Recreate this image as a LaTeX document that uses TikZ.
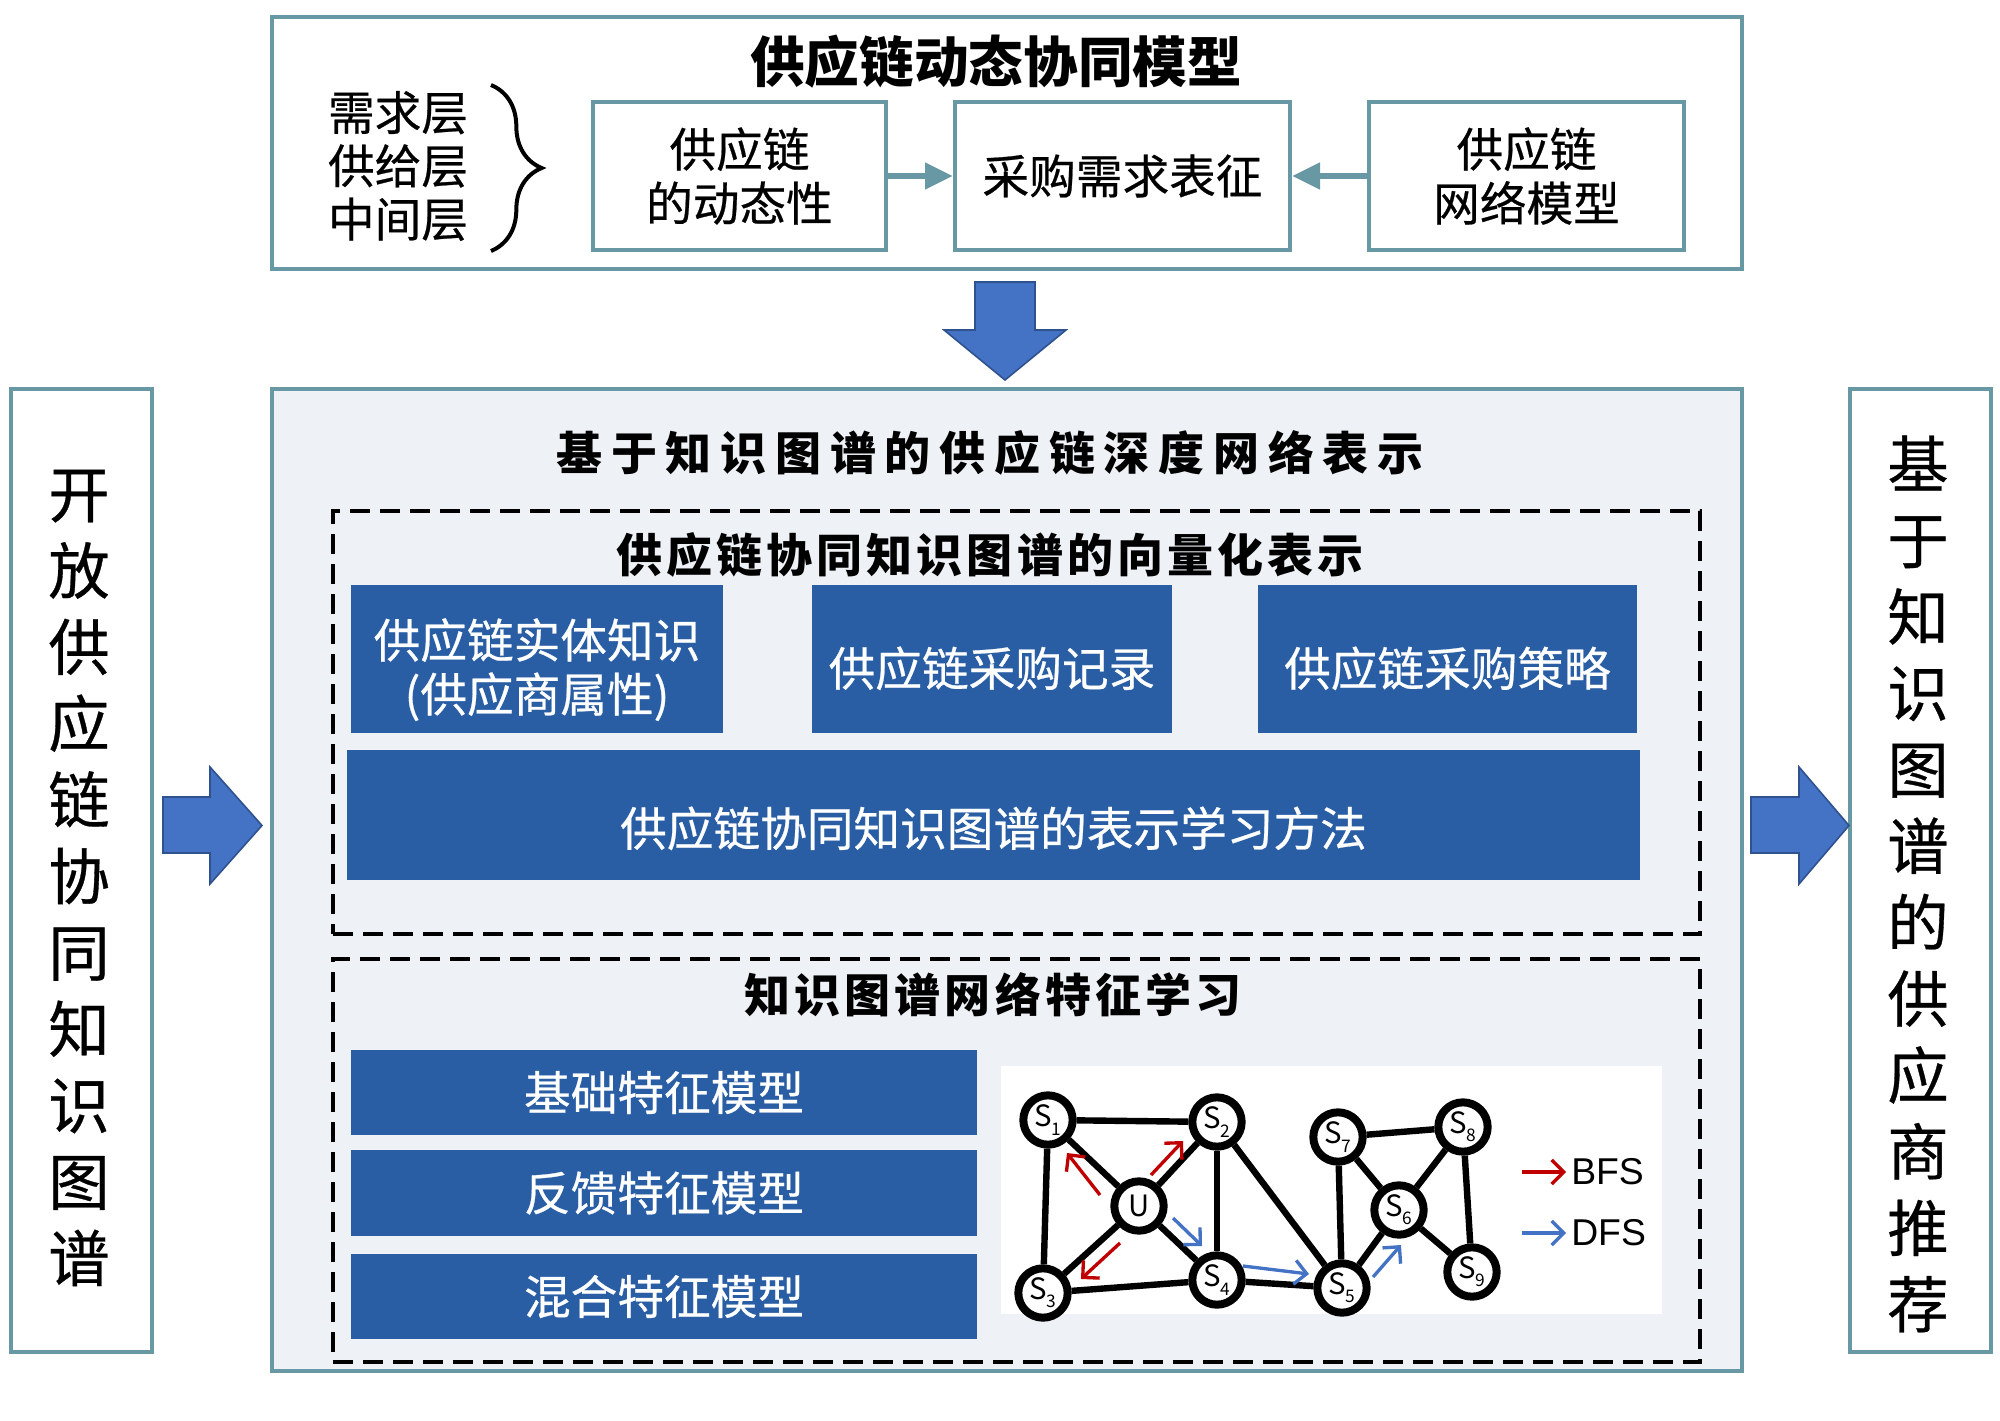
\documentclass[tikz,border=0pt]{standalone}
\usepackage{fontspec}
\setmainfont{Noto Sans CJK SC}[UprightFeatures={FakeBold=0.5}]
\newfontfamily\latinsans{Liberation Sans}
\newfontfamily\glabel{Noto Sans CJK SC}
\usetikzlibrary{arrows.meta,decorations.pathreplacing}
\definecolor{tealb}{RGB}{104,152,163}
\definecolor{midfill}{RGB}{238,242,247}
\definecolor{kblue}{RGB}{41,94,165}
\definecolor{arrfill}{RGB}{68,114,196}
\definecolor{arrdraw}{RGB}{47,82,143}
\definecolor{bfsred}{RGB}{192,0,0}
\definecolor{dfsblue}{RGB}{68,114,196}
\newcommand\myfs[2]{\fontsize{#1}{#2}\selectfont}
\newcommand\sub[1]{\raisebox{-0.28em}{\myfs{13}{13}#1}}
\begin{document}
\begin{tikzpicture}[x=0.75pt,y=-0.75pt,
 frame/.style={draw=tealb,line width=3pt,inner sep=0pt},
 topbox/.style={frame,fill=white,align=center,font=\myfs{35}{40.5}},
 kbox/.style={fill=kblue,inner sep=0pt},
 ktext/.style={text=white,inner sep=0pt,align=center,font=\myfs{35}{40.5}},
 dbox/.style={draw=black,line width=2.6pt,dash pattern=on 15pt off 7.5pt,inner sep=0pt},
 bigarrow/.style={fill=arrfill,draw=arrdraw,line width=1.2pt},
 tarrow/.style={draw=tealb,line width=5pt,-{Triangle[length=21pt,width=19pt]}},
 gnode/.style={circle,draw=black,fill=white,line width=6pt,minimum size=37pt,inner sep=0pt,font=\glabel\myfs{22}{22}},
 gedge/.style={draw=black,line width=4.8pt},
 bfs/.style={draw=bfsred,line width=2.5pt,-{Straight Barb[length=9pt,width=18pt]}},
 dfs/.style={draw=dfsblue,line width=2.5pt,-{Straight Barb[length=9pt,width=18pt]}},
 vtext/.style={align=center,font=\myfs{46}{57.3},inner sep=0pt}]
\useasboundingbox (0,0) rectangle (2000,1421);
\fill[white] (0,0) rectangle (2000,1421);

% ---------- top box ----------
\node[frame,fill=white,minimum width=1470*0.75pt,minimum height=252*0.75pt] (top) at (1007,143) {};
\node[font=\bfseries\myfs{41}{45}] (toptitle) at (996,62) {供应链动态协同模型};
\node[align=center,font=\myfs{35}{40}] (layers) at (398,166) {需求层\\供给层\\中间层};
\draw[decorate,decoration={brace,amplitude=38pt,aspect=0.5},line width=3pt] (491,85) -- (491,251);
\node[topbox,minimum width=293*0.75pt,minimum height=148*0.75pt] (b1) at (739.5,176) {供应链\\的动态性};
\node[topbox,minimum width=335*0.75pt,minimum height=148*0.75pt] (b2) at (1122.5,176) {采购需求表征};
\node[topbox,minimum width=315*0.75pt,minimum height=148*0.75pt] (b3) at (1526.5,176) {供应链\\网络模型};
\draw[tarrow] (b1.east) -- (b2.west);
\draw[tarrow] (b3.west) -- (b2.east);

% ---------- down arrow ----------
\draw[bigarrow] (975,282) -- (1035,282) -- (1035,330) -- (1066,330) -- (1005,380) -- (944,330) -- (975,330) -- cycle;

% ---------- side boxes ----------
\node[frame,fill=white,minimum width=141*0.75pt,minimum height=963*0.75pt] (left) at (81.5,870.5) {};
\node[vtext] (lefttext) at (79,878) {开\\放\\供\\应\\链\\协\\同\\知\\识\\图\\谱};
\node[frame,fill=white,minimum width=141*0.75pt,minimum height=963*0.75pt] (right) at (1920.5,870.5) {};
\node[vtext] (righttext) at (1918,884) {基\\于\\知\\识\\图\\谱\\的\\供\\应\\商\\推\\荐};
\draw[bigarrow] (163,797) -- (210,797) -- (210,767) -- (262,825.5) -- (210,884) -- (210,853) -- (163,853) -- cycle;
\draw[bigarrow] (1751,797) -- (1799,797) -- (1799,767) -- (1849,825.5) -- (1799,884) -- (1799,853) -- (1751,853) -- cycle;

% ---------- middle box ----------
\node[frame,fill=midfill,minimum width=1470*0.75pt,minimum height=982*0.75pt] (mid) at (1007,880) {};
\node[font=\bfseries\myfs{34.5}{38}\addfontfeature{LetterSpace=19}] (midtitle) at (990,453) {基于知识图谱的供应链深度网络表示};

\node[dbox,minimum width=1367*0.75pt,minimum height=423*0.75pt] (d1) at (1016.5,722.5) {};
\node[font=\bfseries\myfs{34.5}{38}\addfontfeature{LetterSpace=9}] (vtitle) at (990,555) {供应链协同知识图谱的向量化表示};
\node[kbox,minimum width=372*0.75pt,minimum height=148*0.75pt] (ka) at (537,659) {};
\node[kbox,minimum width=360*0.75pt,minimum height=148*0.75pt] (kb) at (992,659) {};
\node[kbox,minimum width=379*0.75pt,minimum height=148*0.75pt] (kc) at (1447.5,659) {};
\node[kbox,minimum width=1293*0.75pt,minimum height=130*0.75pt] (kw) at (993.5,815) {};
\node[ktext,yshift=-8pt] (kat) at (ka.center) {供应链实体知识\\(供应商属性)};
\node[ktext,yshift=-7pt] (kbt) at (kb.center) {供应链采购记录};
\node[ktext,yshift=-7pt] (kct) at (kc.center) {供应链采购策略};
\node[ktext,yshift=-10pt] (kwt) at (kw.center) {供应链协同知识图谱的表示学习方法};

\node[dbox,minimum width=1367*0.75pt,minimum height=403*0.75pt] (d2) at (1016.5,1160.5) {};
\node[font=\bfseries\myfs{34.5}{38}\addfontfeature{LetterSpace=9}] (ftitle) at (993,995) {知识图谱网络特征学习};
\node[kbox,minimum width=626*0.75pt,minimum height=85*0.75pt] (f1) at (664,1092.5) {};
\node[kbox,minimum width=626*0.75pt,minimum height=86*0.75pt] (f2) at (664,1193) {};
\node[kbox,minimum width=626*0.75pt,minimum height=85*0.75pt] (f3) at (664,1296.5) {};
\node[ktext] (f1t) at (f1.center) {基础特征模型};
\node[ktext] (f2t) at (f2.center) {反馈特征模型};
\node[ktext] (f3t) at (f3.center) {混合特征模型};

% ---------- graph ----------
\node[fill=white,minimum width=661*0.75pt,minimum height=248*0.75pt,inner sep=0pt] (panel) at (1331.5,1190) {};
\node[gnode] (S1) at (1048,1120) {S\sub{1}};
\node[gnode] (S2) at (1217,1122) {S\sub{2}};
\node[gnode] (U) at (1139,1206) {U};
\node[gnode] (S3) at (1043,1293) {S\sub{3}};
\node[gnode] (S4) at (1217,1280) {S\sub{4}};
\node[gnode] (S5) at (1342,1288) {S\sub{5}};
\node[gnode] (S7) at (1338,1137) {S\sub{7}};
\node[gnode] (S8) at (1463,1127) {S\sub{8}};
\node[gnode] (S6) at (1399,1210) {S\sub{6}};
\node[gnode] (S9) at (1472,1272) {S\sub{9}};
\foreach \a/\b in {S1/S2,S1/U,S1/S3,U/S2,U/S3,U/S4,S2/S4,S2/S5,S3/S4,S4/S5,S7/S5,S5/S6,S7/S6,S7/S8,S8/S6,S8/S9,S6/S9}
  \draw[gedge] (\a) -- (\b);

\coordinate (r1a) at (1100,1195); \coordinate (r1b) at (1067,1153);
\coordinate (r2a) at (1151,1175); \coordinate (r2b) at (1183,1141);
\coordinate (r3a) at (1120,1243); \coordinate (r3b) at (1081,1279);
\coordinate (b1a) at (1173,1218); \coordinate (b1b) at (1202,1246);
\coordinate (b2a) at (1243,1266); \coordinate (b2b) at (1309,1274);
\coordinate (b3a) at (1373,1277); \coordinate (b3b) at (1401,1245);
\draw[bfs] (r1a) -- (r1b);
\draw[bfs] (r2a) -- (r2b);
\draw[bfs] (r3a) -- (r3b);
\draw[dfs] (b1a) -- (b1b);
\draw[dfs] (b2a) -- (b2b);
\draw[dfs] (b3a) -- (b3b);

\coordinate (lega) at (1522,1172); \coordinate (legb) at (1566,1172);
\coordinate (legc) at (1522,1233); \coordinate (legd) at (1566,1233);
\draw[bfs] (lega) -- (legb);
\draw[dfs] (legc) -- (legd);
\node[font=\latinsans\myfs{28}{30},anchor=west,inner sep=0pt] (bfslabel) at (1571,1172) {BFS};
\node[font=\latinsans\myfs{28}{30},anchor=west,inner sep=0pt] (dfslabel) at (1571,1233) {DFS};
\end{tikzpicture}
\end{document}
